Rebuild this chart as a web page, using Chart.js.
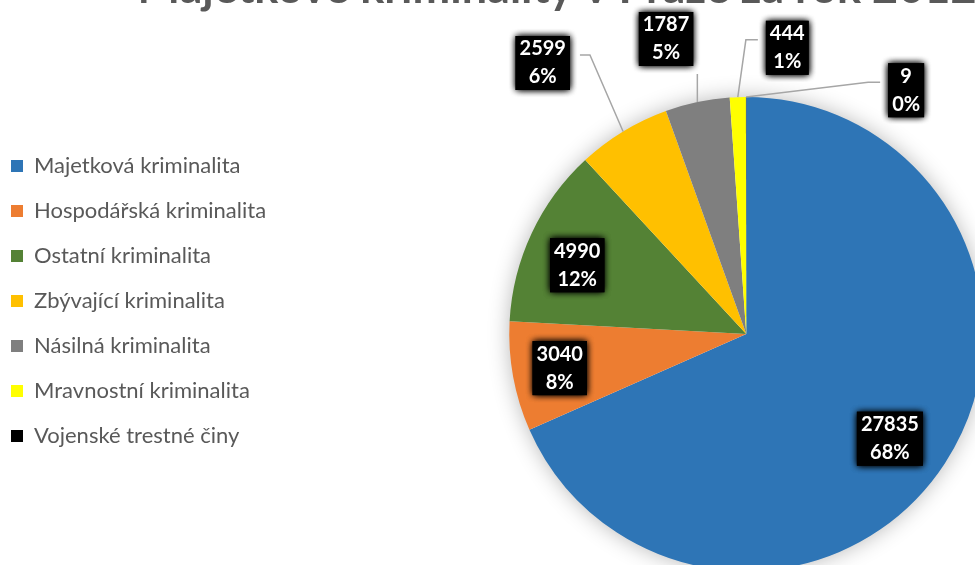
<!DOCTYPE html>
<html>
<head>
<meta charset="utf-8">
<script src="https://cdn.jsdelivr.net/npm/chart.js@4.4.1/dist/chart.umd.min.js"></script>
<style>
  html, body { margin: 0; padding: 0; background: #fff; overflow: hidden; }
  body { width: 975px; height: 565px; position: relative; }
  #wrap { position: absolute; left: -12px; top: -44px; width: 1138px; height: 690px; }
</style>
</head>
<body>
<div id="wrap"><canvas id="myChart"></canvas></div>
<script>
const categories = [
  "Majetková kriminalita",
  "Hospodářská kriminalita",
  "Ostatní kriminalita",
  "Zbývající kriminalita",
  "Násilná kriminalita",
  "Mravnostní kriminalita",
  "Vojenské trestné činy"
];
const counts = [27835, 3040, 4990, 2599, 1787, 444, 9];
const sliceColors = ["#2E75B6", "#ED7D31", "#548235", "#FFC000", "#7F7F7F", "#FFFF00", "#000000"];

// where each label sits: distance as share of radius, turn from mid angle in degrees
const labelPlacement = [
  { r: 0.75, turn: 3 },
  { r: 0.80, turn: 0 },
  { r: 0.77, turn: -3 },
  { r: 1.43, turn: -5.6, outside: true },
  { r: 1.29, turn: -3.3, outside: true },
  { r: 1.22, turn: 10.2, outside: true },
  { r: 1.23, turn: 33.3, outside: true }
];

// percentages that add up to 100 (largest remainder)
function roundedPercents(vals) {
  const total = vals.reduce((a, b) => a + b, 0);
  const raw = vals.map(v => v / total * 100);
  const out = raw.map(Math.floor);
  const left = 100 - out.reduce((a, b) => a + b, 0);
  const order = raw.map((r, i) => i).sort((a, b) => (raw[b] - out[b]) - (raw[a] - out[a]));
  for (let k = 0; k < left; k++) out[order[k]]++;
  return out;
}
const percents = roundedPercents(counts);

const pieShadow = {
  id: 'pieShadow',
  beforeDatasetsDraw(chart) {
    const arc = chart.getDatasetMeta(0).data[0];
    if (!arc) return;
    const { ctx } = chart;
    ctx.save();
    ctx.shadowColor = 'rgba(0,0,0,0.3)';
    ctx.shadowBlur = 22;
    ctx.fillStyle = '#ffffff';
    ctx.beginPath();
    ctx.arc(arc.x, arc.y, arc.outerRadius - 1, 0, Math.PI * 2);
    ctx.fill();
    ctx.restore();
  }
};

const sliceLabels = {
  id: 'sliceLabels',
  afterDatasetsDraw(chart) {
    const { ctx } = chart;
    const meta = chart.getDatasetMeta(0);
    ctx.save();
    ctx.font = 'bold 20px Lato';
    const lh = 28;
    meta.data.forEach((arc, i) => {
      const p = labelPlacement[i];
      const mid = (arc.startAngle + arc.endAngle) / 2;
      const a = mid + p.turn * Math.PI / 180;
      const R = arc.outerRadius;
      const cx = arc.x + Math.cos(a) * R * p.r;
      const cy = arc.y + Math.sin(a) * R * p.r;
      const lines = [String(counts[i]), percents[i] + '%'];
      const tw = Math.max(...lines.map(t => ctx.measureText(t).width));
      const bw = tw + 8, bh = 54;
      const box = { left: cx - bw / 2, right: cx + bw / 2, top: cy - bh / 2, bottom: cy + bh / 2 };

      if (p.outside) {
        const px = arc.x + Math.cos(mid) * R;
        const py = arc.y + Math.sin(mid) * R;
        ctx.strokeStyle = '#A6A6A6';
        ctx.lineWidth = 1.5;
        ctx.beginPath();
        ctx.moveTo(px, py);
        const ys = cy - 8;
        if (px > box.right + 10) {
          ctx.lineTo(box.right + 20, ys);
          ctx.lineTo(box.right + 10, ys);
        } else if (px < box.left - 10) {
          ctx.lineTo(box.left - 20, ys);
          ctx.lineTo(box.left - 8, ys);
        } else {
          ctx.lineTo(px, box.bottom + 8);
        }
        ctx.stroke();
      }

      ctx.shadowColor = '#000';
      ctx.shadowBlur = 7;
      ctx.fillStyle = '#000';
      ctx.fillRect(box.left, box.top, bw, bh);
      ctx.fillRect(box.left, box.top, bw, bh);
      ctx.shadowBlur = 0;
      ctx.fillStyle = '#fff';
      ctx.textAlign = 'center';
      ctx.textBaseline = 'middle';
      ctx.fillText(lines[0], cx, cy - lh / 2);
      ctx.fillText(lines[1], cx, cy + lh / 2);
    });
    ctx.restore();
  }
};

const ctx = document.getElementById('myChart');

const myChart = new Chart(ctx, {
  type: 'pie',
  plugins: [pieShadow, sliceLabels],
  data: {
    labels: categories,
    datasets: [{
      data: counts,
      backgroundColor: sliceColors,
      borderWidth: 0,
      radius: 237
    }]
  },
  options: {
    responsive: true,
    maintainAspectRatio: false,
    animation: false,
    events: [],
    plugins: {
      title: {
        display: true,
        text: 'Majetkové kriminality v Praze za rok 2012',
        color: '#595959',
        font: { family: 'Lato', size: 45, weight: 'bold', lineHeight: 1.2 },
        padding: { top: 5, bottom: 7 }
      },
      // empty spacer between legend and pie
      subtitle: {
        display: true,
        position: 'left',
        text: '',
        weight: 500,
        font: { size: 1, lineHeight: 1 },
        padding: { top: 93, bottom: 0 }
      },
      legend: {
        position: 'left',
        align: 'center',
        labels: {
          boxWidth: 12,
          boxHeight: 12,
          padding: 23,
          color: '#595959',
          font: { family: 'Lato', size: 22 }
        }
      },
      tooltip: { enabled: false }
    }
  }
});
</script>
</body>
</html>
